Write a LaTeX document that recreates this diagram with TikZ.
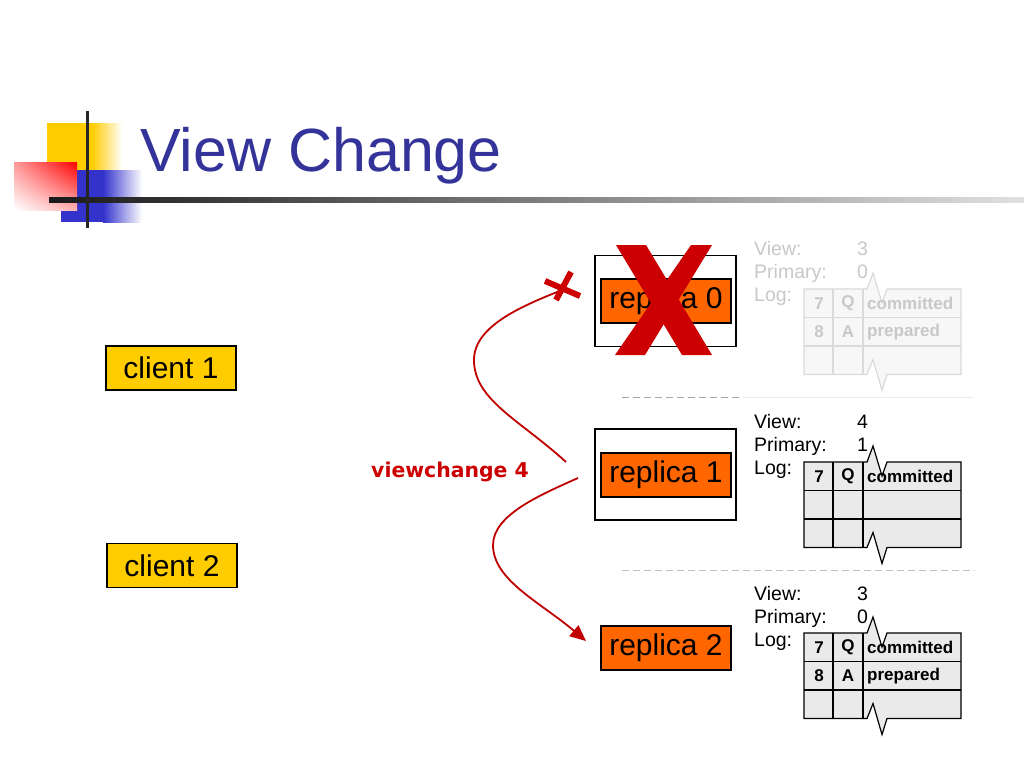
\documentclass[tikz,border=0pt]{standalone}
\usepackage{fontspec}
\setmainfont{Liberation Sans}
\newfontfamily\dvfont{DejaVu Sans}
\usetikzlibrary{arrows.meta,shadings}
\definecolor{titleblue}{HTML}{333399}
\definecolor{myred}{HTML}{CC0000}
\definecolor{curvered}{HTML}{C00000}
\definecolor{myorange}{HTML}{FF6600}
\definecolor{myyellow}{HTML}{FFCC00}
\definecolor{myblue}{HTML}{3333CC}
\definecolor{cellgray}{HTML}{EAEAEA}
\definecolor{fainttext}{HTML}{C8C8C8}
\definecolor{faintline}{HTML}{DADADA}
\definecolor{faintfill}{HTML}{F7F7F7}
\tikzset{
  clientbox/.style={draw=black, line width=1.5pt, fill=myyellow, minimum width=130pt, minimum height=44pt, inner sep=0pt, font=\fontsize{30}{34}\selectfont},
  replicabox/.style={draw=black, line width=1.5pt, fill=myorange, minimum width=130pt, minimum height=44pt, inner sep=0pt, font=\fontsize{30}{34}\selectfont},
  outerbox/.style={draw=black, line width=1.5pt, fill=white, minimum width=141pt, minimum height=91pt, inner sep=0pt},
  logact/.style={draw=black, fill=cellgray, line width=1.2pt},
  logactgrid/.style={draw=black, line width=1.2pt},
  logdim/.style={draw=faintline, fill=faintfill, line width=1.2pt},
  logdimgrid/.style={draw=faintline, line width=1.2pt},
  logtxtact/.style={text=black, inner sep=0pt, font=\bfseries\fontsize{17}{20}\selectfont},
  logtxtdim/.style={text=fainttext, inner sep=0pt, font=\bfseries\fontsize{17}{20}\selectfont},
  statetxtact/.style={text=black, inner sep=0pt, anchor=base west, font=\fontsize{19.5}{22}\selectfont},
  statetxtdim/.style={text=fainttext, inner sep=0pt, anchor=base west, font=\fontsize{19.5}{22}\selectfont},
  conn/.style={draw=curvered, line width=1.8pt},
}
% #1 name, #2 top y, #3 act/dim, #4-#6 row 1, #7-#9 row 2
\newcommand\logtab[9]{%
  \path[log#3] (804,#2) -- (867,#2) -- (873,#2-16) -- (882,#2+14) -- (887,#2) -- (961,#2)
    -- (961,#2+85.5) -- (887,#2+85.5) -- (882,#2+101.5) -- (873,#2+70.5) -- (867,#2+85.5)
    -- (804,#2+85.5) -- cycle;
  \draw[log#3grid] (804,#2+28.5) -- (961,#2+28.5) (804,#2+57) -- (961,#2+57)
    (833,#2) -- (833,#2+85.5) (863,#2) -- (863,#2+85.5);
  \node[logtxt#3] (#1na) at (819,#2+14.5) {#4};
  \node[logtxt#3] (#1la) at (848,#2+14.5) {#5};
  \node[logtxt#3, anchor=west] (#1wa) at (867,#2+14.5) {#6};
  \node[logtxt#3] (#1nb) at (819,#2+43) {#7};
  \node[logtxt#3] (#1lb) at (848,#2+43) {#8};
  \node[logtxt#3, anchor=west] (#1wb) at (867,#2+43) {#9};
}
% #1 name, #2 baseline of View, #3 view, #4 primary, #5 act/dim
\newcommand\statetxt[5]{%
  \node[statetxt#5] (#1v) at (754,#2) {View:};
  \node[statetxt#5] (#1vn) at (857,#2) {#3};
  \node[statetxt#5] (#1p) at (754,#2+23) {Primary:};
  \node[statetxt#5] (#1pn) at (857,#2+23) {#4};
  \node[statetxt#5] (#1l) at (754,#2+46) {Log:};
}
\begin{document}
\begin{tikzpicture}[x=1pt,y=-1pt]
\useasboundingbox (0,0) rectangle (1024,768);
\fill[white] (0,0) rectangle (1024,768);

% title decoration
\fill[myyellow] (47,123) rectangle (92,172);
\shade[left color=myyellow, right color=white] (92,123) rectangle (122,172);
\fill[myblue] (61,170) rectangle (103,222);
\shade[left color=myblue, right color=white] (103,170) rectangle (142,222);
\shade[upper left=red!40, upper right=red, lower left=white, lower right=red!30] (14,162) rectangle (77,210);
\shade[left color=black!90, right color=black!12] (49,197.5) rectangle (1024,202.5);
\fill[black!85] (85.5,111) rectangle (88.5,228);
\node[anchor=base west, inner sep=0pt, text=titleblue, font=\fontsize{61}{70}\selectfont] (title) at (140,171) {View Change};

% clients
\node[clientbox] (client1) at (171,368) {client 1};
\node[clientbox] (client2) at (172,565.5) {client 2};

% separators
\draw[black!35, line width=1pt, dash pattern=on 7pt off 4pt] (622,397) -- (743,397);
\draw[black!8, line width=1pt] (743,397) -- (973,397);
\draw[black!25, line width=1pt, dash pattern=on 7pt off 4pt] (622,570) -- (975,570);

% replicas
\node[outerbox] (r0outer) at (665.5,301) {};
\node[replicabox] (r0) at (666,301) {replica 0};
\node[outerbox] (r1outer) at (665.5,474.5) {};
\node[replicabox] (r1) at (666,475) {replica 1};
\node[replicabox] (r2) at (666,648) {replica 2};

% big X over replica 0
\fill[myred] (616,245) -- (646,245) -- (712,355) -- (682,355) -- cycle;
\fill[myred] (691,245) -- (712,245) -- (645,355) -- (615,355) -- cycle;

% state and logs
\statetxt{s0}{255}{3}{0}{dim}
\logtab{t0}{289}{dim}{7}{Q}{committed}{8}{A}{prepared}
\statetxt{s1}{428}{4}{1}{act}
\logtab{t1}{462}{act}{7}{Q}{committed}{}{}{}
\statetxt{s2}{600}{3}{0}{act}
\logtab{t2}{633}{act}{7}{Q}{committed}{8}{A}{prepared}

% viewchange messages
\node[anchor=base west, inner sep=0pt, text=myred, font=\dvfont\bfseries\fontsize{20.4}{24}\selectfont] (vc) at (371,477) {viewchange 4};
\coordinate (c1s) at (566,462);
\coordinate (c1l) at (474,360);
\coordinate (c1e) at (562,290);
\draw[conn] (c1s) .. controls (520,420) and (474,400) .. (c1l) .. controls (474,325) and (525,305) .. (c1e);
\draw[myred, line width=6pt] (545,281) -- (580,296);
\draw[myred, line width=6pt] (556,300) -- (571,272);
\coordinate (c2s) at (578,478);
\coordinate (c2l) at (493,545);
\coordinate (c2e) at (586,641);
\draw[conn, -{Triangle[length=16pt, width=14pt]}] (c2s) .. controls (540,495) and (493,515) .. (c2l) .. controls (493,580) and (540,602) .. (c2e);
\end{tikzpicture}
\end{document}
